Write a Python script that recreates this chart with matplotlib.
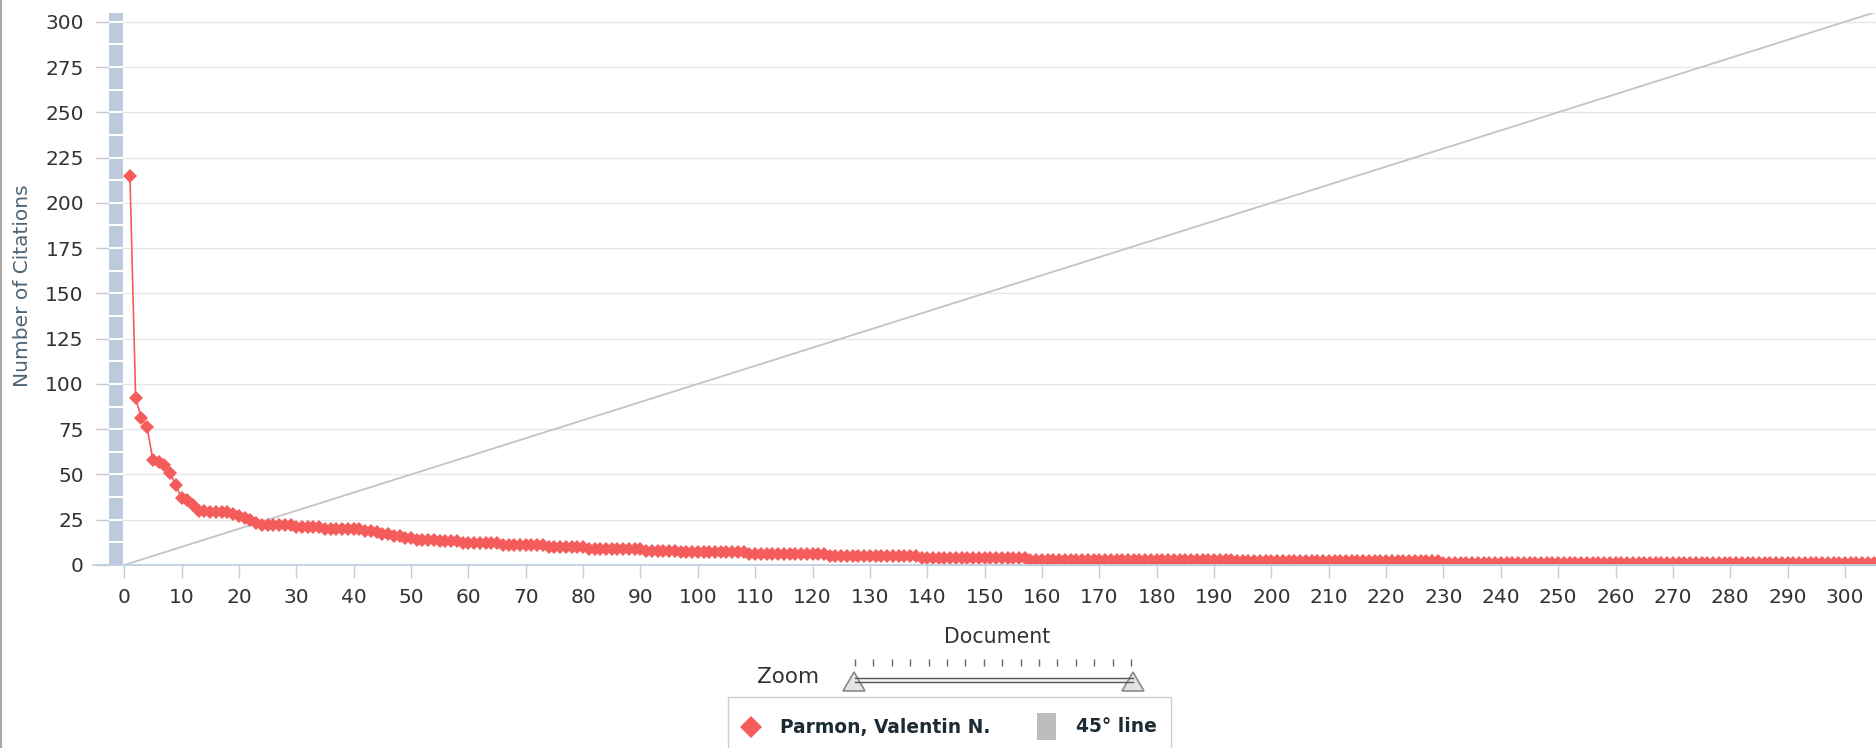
import numpy as np
import matplotlib
matplotlib.use("Agg")
import matplotlib.pyplot as plt
from matplotlib.patches import Rectangle, Polygon

# citations per document, sorted descending: value and how many documents have it
cite_values = [215, 92, 81, 76, 58, 57, 55, 51, 44, 37, 36, 33,
               30, 29, 28, 27, 26, 25, 23,
               22, 21, 20, 19, 18, 17, 16, 15, 14, 13, 12, 11, 10, 9, 8, 7, 6, 5, 4, 3, 2, 1]
cite_counts = [1, 1, 1, 1, 1, 1, 1, 1, 1, 1, 1, 1,
               2, 4, 1, 1, 1, 1, 1,
               6, 5, 7, 2, 1, 2, 2, 2, 4, 4, 7, 8, 7, 10, 6, 12, 14, 16, 19, 36, 36, 76]
diag_x = [0, 306]
diag_y = [0, 306]
y_ticks = list(range(0, 301, 25))
x_ticks = list(range(0, 301, 10))
series_name = "Parmon, Valentin N."
diag_name = "45\u00b0 line"

cites = np.repeat(cite_values, cite_counts)
docs = np.arange(1, len(cites) + 1)

W, H = 1876, 748
fig = plt.figure(figsize=(W / 100, H / 100), dpi=100)


def px_box(left, top, right, bottom):
    return [left / W, 1 - bottom / H, (right - left) / W, (bottom - top) / H]


ax = fig.add_axes(px_box(108.7, 12.7, 1876, 565))
ax.set_xlim(-2.7, 305.4)
ax.set_ylim(0, 305)

# grid and the striped band left of zero
ax.set_yticks(y_ticks)
ax.set_xticks(x_ticks)
ax.yaxis.grid(True, color="#e6e6e6", lw=1)
ax.set_axisbelow(True)
ax.axvspan(-2.7, -0.12, color="#bccadb", lw=0, zorder=2)
ax.hlines(np.arange(12.5, 305, 12.5), -2.7, -0.12, color="white", lw=1.5, zorder=2.5)

# series
ax.plot(diag_x, diag_y, color="#c4c4c4", lw=1.3, zorder=3)
ax.plot(docs, cites, color="#f45b5b", lw=1.2, marker="D", ms=7.5, mew=0, zorder=4)

for side in ["top", "right", "left"]:
    ax.spines[side].set_visible(False)
ax.spines["bottom"].set_color("#c0d0e0")
ax.spines["bottom"].set_linewidth(1.3)
ax.spines["bottom"].set_bounds(-5.4, 305.4)
ax.spines["bottom"].set_zorder(5)

ax.tick_params(axis="y", length=9.4, width=1, color="#c8c8c8", pad=8.6,
               labelsize=14.5, labelcolor="#333333")
ax.tick_params(axis="x", length=9.4, width=1, color="#c0d0e0", pad=7,
               labelsize=14.5, labelcolor="#333333")

fig.text(22 / W, 1 - 286 / H, "Number of Citations", rotation=90, ha="center",
         va="center", fontsize=14.5, color="#4d6577")
fig.text(997 / W, 1 - 637 / H, "Document", ha="center", va="center",
         fontsize=14.8, color="#333333")

# overlay in pixel coordinates for zoom slider and legend
ov = fig.add_axes([0, 0, 1, 1])
ov.set_xlim(0, W)
ov.set_ylim(H, 0)
ov.axis("off")
ov.patch.set_alpha(0)

ov.plot([1, 1], [0, H], color="#a8a8a8", lw=1.5)

ov.text(788, 677, "Zoom", ha="center", va="center", fontsize=15.5, color="#333333")
ov.vlines(np.linspace(855, 1131, 16), 659, 666, color="#666666", lw=1)
ov.add_patch(Rectangle((855, 677.5), 278, 4, fc="#f4f4f4", ec="none"))
ov.plot([855, 1133], [677.5, 677.5], color="#555555", lw=1)
ov.plot([855, 1133], [681.5, 681.5], color="#555555", lw=1)
for cx in [854, 1133]:
    ov.add_patch(Polygon([(cx - 11, 691), (cx, 672), (cx + 11, 691)], closed=True,
                         fc="#e4e4e4", ec="#8a8a8a", lw=1.2))

ov.add_patch(Rectangle((728, 697), 443, 60, fc="white", ec="#cfcfcf", lw=1))
ov.plot(751, 727, marker="D", ms=11.5, color="#f45b5b", mew=0)
ov.text(780, 727, series_name, ha="left", va="center", fontsize=13.4,
        fontweight="bold", color="#1c2a33")
ov.add_patch(Rectangle((1037, 713), 19, 27, fc="#bdbdbd", ec="none"))
ov.text(1076, 727, diag_name, ha="left", va="center", fontsize=13.4,
        fontweight="bold", color="#1c2a33")

fig.savefig("out.png", dpi=100)
